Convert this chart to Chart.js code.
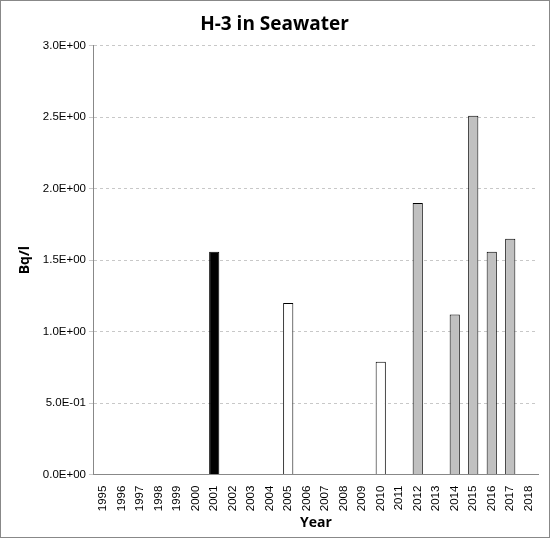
<!DOCTYPE html>
<html><head><script src="https://cdn.jsdelivr.net/npm/chart.js"></script>
<style>body{margin:0;background:#fff}#w{width:548px;height:536px;border:1px solid #888;position:relative}</style></head>
<body><div id="w"><canvas id="c"></canvas></div>
<script>
const years=['1995','1996','1997','1998','1999','2000','2001','2002','2003','2004','2005','2006','2007','2008','2009','2010','2011','2012','2013','2014','2015','2016','2017','2018'];
const values=[null,null,null,null,null,null,1.56,null,null,null,1.2,null,null,null,null,0.79,null,1.9,null,1.12,2.51,1.56,1.65,null];
const barColors=years.map(y=>{const n=+y;return n<=2001?'#000000':(n<=2010?'#ffffff':'#c0c0c0');});
const yTicks=[0,0.5,1,1.5,2,2.5,3];
new Chart(document.getElementById('c'),{type:'bar',
data:{labels:years,datasets:[{data:values,backgroundColor:barColors,borderColor:'#000',borderWidth:1,categoryPercentage:0.55,barPercentage:1}]},
options:{responsive:true,maintainAspectRatio:false,animation:false,
layout:{padding:{left:10,right:11,top:10,bottom:6}},
plugins:{legend:{display:false},tooltip:{enabled:false},
title:{display:true,text:'H-3 in Seawater',font:{family:'Open Sans',size:19,weight:'bold'},color:'#000',padding:{top:2,bottom:10}}},
scales:{x:{grid:{display:false,drawOnChartArea:false},border:{color:'#888'},
ticks:{maxRotation:90,minRotation:90,color:'#000',font:{family:'Liberation Sans',size:11.5}},
title:{display:true,text:'Year',font:{family:'Open Sans',size:14,weight:'bold'},color:'#000',padding:0}},
y:{min:0,max:3,afterBuildTicks:a=>{a.ticks=yTicks.map(v=>({value:v}));},
grid:{color:'#c8c8c8',tickLength:5},border:{color:'#888',dash:[3,3]},
ticks:{color:'#000',font:{family:'Liberation Sans',size:11.5},callback:v=>{let s=v.toExponential(1).toUpperCase();return s.replace(/E([+-])(\d)$/,'E$10$2');}},
title:{display:true,text:'Bq/l',font:{family:'Open Sans',size:14,weight:'bold'},color:'#000',padding:6}}}}});
</script></body></html>
